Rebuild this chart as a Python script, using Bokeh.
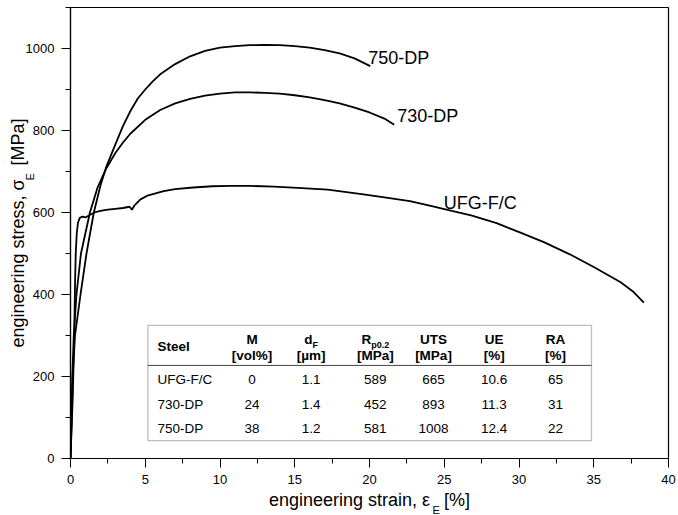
import math
from bokeh.plotting import figure
from bokeh.models import Range1d, SingleIntervalTicker, Label, BoxAnnotation
from bokeh.embed import file_html
from bokeh.resources import INLINE

# ---------------- data ----------------
ufg_strain = [0, 0.15, 0.25, 0.3, 0.35, 0.42, 0.5, 0.62, 0.8, 1.0, 1.2, 1.6, 2.0, 2.5, 3.0, 3.5,
              3.95, 4.1, 4.3, 4.68, 5.2, 6.24, 7.0, 8.2, 9.5, 10.7, 12.0, 13.6, 15.2, 17.2,
              19.6, 21.0, 22.7, 24.1, 25.5, 26.8, 28.5, 30.1, 31.7, 33.4, 35.0, 36.8, 37.6, 38.35]
ufg_stress = [0, 150, 300, 420, 500, 550, 575, 587, 590, 588, 592, 600, 604, 607, 609, 611,
              614, 607, 618, 632, 642, 652, 657, 661, 664, 665, 665, 663, 660, 656,
              644, 637, 628, 616, 604, 593, 574, 551, 527, 498, 467, 430, 408, 380]

dp730_strain = [0, 0.06, 0.12, 0.22, 0.4, 0.7, 1.3, 1.8, 2.4, 3.0, 3.5, 4.0, 5.0, 6.0, 7.0, 8.0,
                9.0, 10.0, 11.0, 12.0, 13.0, 14.0, 15.0, 16.0, 17.0, 18.0, 19.0, 20.0, 21.0, 21.65]
dp730_stress = [0, 100, 200, 300, 400, 500, 600, 660, 708, 745, 770, 792, 826, 850, 866, 877,
                885, 890, 893, 893, 892, 890, 886, 881, 874, 866, 856, 844, 829, 814]

dp750_strain = [0, 0.08, 0.15, 0.3, 0.67, 1.07, 1.56, 2.0, 2.4, 2.9, 3.5, 4.0, 4.5, 5.0, 5.5, 6.0,
                7.0, 8.0, 9.0, 10.0, 11.0, 12.0, 13.0, 14.0, 15.0, 16.0, 17.0, 18.0, 19.0, 20.05]
dp750_stress = [0, 100, 200, 300, 400, 500, 600, 665, 712, 757, 810, 847, 878, 900, 920, 937,
                962, 981, 994, 1002, 1006, 1008, 1009, 1008, 1006, 1002, 996, 988, 976, 957]

curve_names = ["750-DP", "730-DP", "UFG-F/C"]

table_steel = ["UFG-F/C", "730-DP", "750-DP"]
table_M = ["0", "24", "38"]
table_dF = ["1.1", "1.4", "1.2"]
table_Rp = ["589", "452", "581"]
table_UTS = ["665", "893", "1008"]
table_UE = ["10.6", "11.3", "12.4"]
table_RA = ["65", "31", "22"]

x_ticks_interval = 5
y_ticks_interval = 200

x_label = "engineering strain, \u03b5\u2002\u00a0[%]"
y_label = "engineering stress, \u03c3\u2002\u00a0[MPa]"
sub_label = "E"

# ---------------- layout helpers (pixel -> data for annotations) ----------------
W, H = 678, 515
L, R, T, B = 70, 10, 6, 57
XMAX, YMAX = 40, 1100
FW, FH = W - L - R, H - T - B


def dx(px):
    return (px - L) * XMAX / FW


def dy(py):
    return (H - B - py) * YMAX / FH


FONT = "Liberation Sans"

p = figure(width=W, height=H, output_backend="svg", toolbar_location=None,
           x_range=Range1d(0, XMAX), y_range=Range1d(0, YMAX),
           min_border_left=L, min_border_right=R, min_border_top=T, min_border_bottom=B)
p.background_fill_color = "white"
p.border_fill_color = "white"
p.outline_line_color = "black"
p.outline_line_width = 1.2
p.xgrid.visible = False
p.ygrid.visible = False

p.xaxis.ticker = SingleIntervalTicker(interval=x_ticks_interval, num_minor_ticks=2)
p.yaxis.ticker = SingleIntervalTicker(interval=y_ticks_interval, num_minor_ticks=2)
for ax in (p.xaxis, p.yaxis):
    ax.axis_line_color = "black"
    ax.axis_line_width = 1.2
    ax.major_tick_line_color = "black"
    ax.minor_tick_line_color = "black"
    ax.major_tick_in = 0
    ax.minor_tick_in = 0
    ax.major_tick_out = 9
    ax.minor_tick_out = 5
    ax.major_label_text_font = FONT
    ax.major_label_text_font_size = "13px"
    ax.major_label_text_color = "black"
    ax.axis_label_text_font = FONT
    ax.axis_label_text_font_size = "18px"
    ax.axis_label_text_font_style = "normal"
    ax.axis_label_text_color = "black"
p.xaxis.major_label_standoff = 7
p.yaxis.major_label_standoff = 7
p.xaxis.axis_label = x_label
p.yaxis.axis_label = y_label
p.xaxis.axis_label_standoff = 3
p.yaxis.axis_label_standoff = -5

# ---------------- curves ----------------
for xs, ys in [(dp750_strain, dp750_stress), (dp730_strain, dp730_stress), (ufg_strain, ufg_stress)]:
    p.line(xs, ys, line_color="black", line_width=1.8)

# curve labels
curve_label_px = [(367.7, 56.7), (396.7, 115.0), (443.3, 201.7)]
for name, (lx, ly) in zip(curve_names, curve_label_px):
    p.add_layout(Label(x=dx(lx), y=dy(ly), text=name, text_font=FONT, text_font_size="18px",
                       text_color="black", text_align="left", text_baseline="alphabetic"))

# subscripts of the axis labels (placed in side panels so that they are not clipped)
p.add_layout(Label(x=dx(432.0), y=dy(509.5), text=sub_label, text_font=FONT, text_font_size="11px",
                   text_color="black", text_align="left", text_baseline="alphabetic"), "right")
p.add_layout(Label(x=dx(29.5), y=dy(179.5), text=sub_label, text_font=FONT, text_font_size="11px",
                   text_color="black", text_align="left", text_baseline="alphabetic",
                   angle=math.pi / 2), "above")

# ---------------- table ----------------
tb_left, tb_right, tb_top, tb_bot, tb_sep = 147.4, 591.0, 324.5, 440.0, 364.7
p.add_layout(BoxAnnotation(left=dx(tb_left), right=dx(tb_right), top=dy(tb_top), bottom=dy(tb_bot),
                           fill_color="white", fill_alpha=1.0, line_color="#222222", line_width=1.3,
                           level="annotation"))
p.segment(x0=[dx(tb_left)], y0=[dy(tb_sep)], x1=[dx(tb_right)], y1=[dy(tb_sep)],
          line_color="#444444", line_width=1.0, level="overlay")

FS = "13.5px"
SUB = "9px"
col_x = [157.0, 251.5, 310.6, 374.8, 433.0, 493.7, 555.0]
h1, h2, hmid = 338.6, 354.9, 346.0
row_y = [378.5, 403.5, 428.2]


def lab(px, py, text, size=FS, bold=False, align="center", baseline="middle"):
    p.add_layout(Label(x=dx(px), y=dy(py), text=text, text_font=FONT, text_font_size=size,
                       text_font_style="bold" if bold else "normal", text_color="black",
                       text_align=align, text_baseline=baseline, level="overlay"))


# header
lab(col_x[0], hmid, "Steel", bold=True, align="left")
lab(col_x[1], h1, "M", bold=True)
lab(col_x[1], h2, "[vol%]", bold=True)
lab(312.0, h1, "d", bold=True, align="right")
lab(312.0, h1 + 5.8, "F", size=SUB, bold=True, align="left", baseline="alphabetic")
lab(col_x[2], h2, "[\u00b5m]", bold=True)
lab(370.7, h1, "R", bold=True, align="right")
lab(370.7, h1 + 5.8, "p0.2", size=SUB, bold=True, align="left", baseline="alphabetic")
lab(col_x[3], h2, "[MPa]", bold=True)
lab(col_x[4], h1, "UTS", bold=True)
lab(col_x[4], h2, "[MPa]", bold=True)
lab(col_x[5], h1, "UE", bold=True)
lab(col_x[5], h2, "[%]", bold=True)
lab(col_x[6], h1, "RA", bold=True)
lab(col_x[6], h2, "[%]", bold=True)

# body rows
for i, ry in enumerate(row_y):
    lab(col_x[0], ry, table_steel[i], align="left")
    for cx, colvals in zip(col_x[1:], [table_M, table_dF, table_Rp, table_UTS, table_UE, table_RA]):
        lab(cx, ry, colvals[i])

open("out.html", "w").write(file_html(p, INLINE))
